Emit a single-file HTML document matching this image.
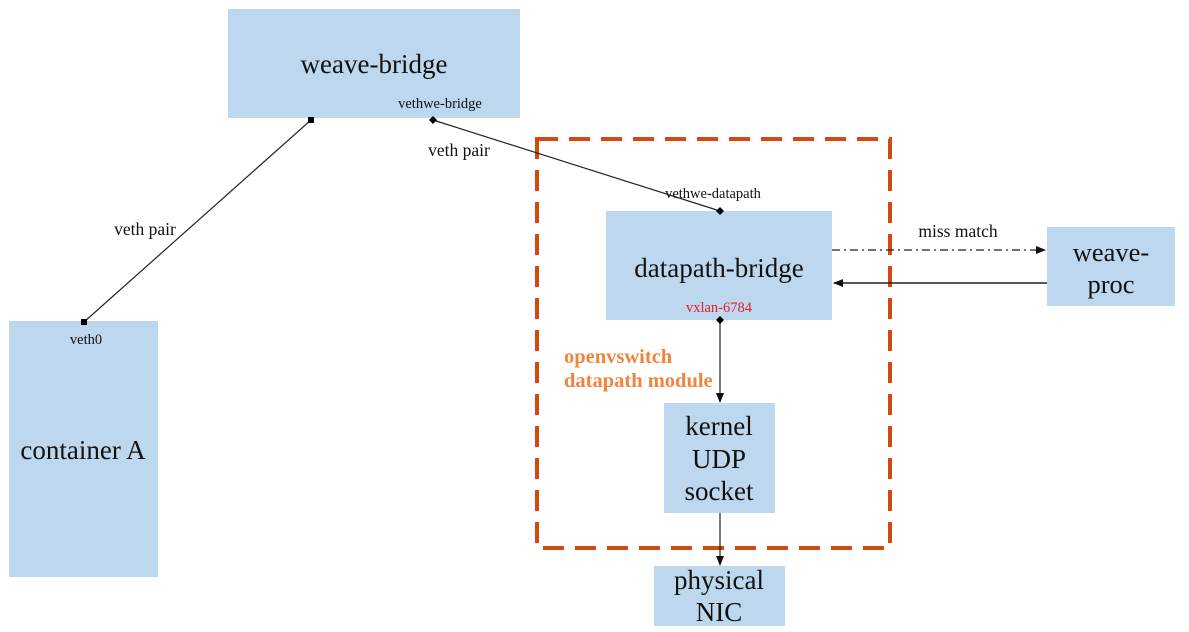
<!DOCTYPE html>
<html><head><meta charset="utf-8"><style>
html,body{margin:0;padding:0;background:#fff;width:1189px;height:632px;overflow:hidden}
text{font-family:"Liberation Serif",serif;fill:#111}
</style></head><body>
<svg width="1189" height="632" viewBox="0 0 1189 632" xmlns="http://www.w3.org/2000/svg">
<defs>
<marker id="ah" markerWidth="10" markerHeight="8" refX="9" refY="4" orient="auto" markerUnits="userSpaceOnUse">
<path d="M0,0 L10,4 L0,8 z" fill="#111"/></marker>
</defs>
<g fill="#bdd7ee">
<rect x="228" y="9" width="292" height="109"/>
<rect x="9" y="321" width="149" height="256"/>
<rect x="606" y="211" width="226" height="109"/>
<rect x="1047" y="227" width="128" height="79"/>
<rect x="664" y="403" width="111" height="110"/>
<rect x="654" y="566" width="131" height="60"/>
</g>
<rect x="537" y="139" width="353" height="409" fill="none" stroke="#d24a0f" stroke-width="4" stroke-dasharray="21,11"/>
<line x1="311" y1="120" x2="84" y2="322" stroke="#222" stroke-width="1.2"/>
<rect x="308" y="117" width="6" height="6" fill="#000"/>
<rect x="81" y="319" width="6" height="6" fill="#000"/>
<line x1="433" y1="120" x2="720" y2="211" stroke="#222" stroke-width="1.2"/>
<path d="M433,116 l4,4 l-4,4 l-4,-4z" fill="#000"/>
<path d="M720,207 l4,4 l-4,4 l-4,-4z" fill="#000"/>
<line x1="832" y1="250" x2="1045" y2="250" stroke="#222" stroke-width="1.2" stroke-dasharray="8,4,2,4" marker-end="url(#ah)"/>
<line x1="1047" y1="283" x2="834" y2="283" stroke="#222" stroke-width="1.5" marker-end="url(#ah)"/>
<line x1="720" y1="320" x2="720" y2="402" stroke="#222" stroke-width="1.2" marker-end="url(#ah)"/>
<path d="M720,316 l4,4 l-4,4 l-4,-4z" fill="#000"/>
<line x1="720" y1="513" x2="720" y2="565" stroke="#222" stroke-width="1.2" marker-end="url(#ah)"/>
<text x="374" y="73" font-size="27" text-anchor="middle">weave-bridge</text>
<text x="440" y="108" font-size="14.5" text-anchor="middle">vethwe-bridge</text>
<text x="145" y="235" font-size="17.5" text-anchor="middle">veth pair</text>
<text x="459" y="156" font-size="17.5" text-anchor="middle">veth pair</text>
<text x="86" y="344" font-size="14.5" text-anchor="middle">veth0</text>
<text x="83" y="459" font-size="27" text-anchor="middle">container A</text>
<text x="713" y="198" font-size="14.5" text-anchor="middle">vethwe-datapath</text>
<text x="719" y="277" font-size="27" text-anchor="middle">datapath-bridge</text>
<text x="719" y="312" font-size="14.5" text-anchor="middle" style="fill:#e8202a">vxlan-6784</text>
<text x="958" y="237" font-size="17.5" text-anchor="middle">miss match</text>
<text x="1111" y="261" font-size="26.5" text-anchor="middle">weave-</text>
<text x="1111" y="293" font-size="26.5" text-anchor="middle">proc</text>
<text x="564" y="363" font-size="20.5" font-weight="bold" style="fill:#f0843c">openvswitch</text>
<text x="564" y="387" font-size="20.5" font-weight="bold" style="fill:#f0843c">datapath module</text>
<text x="719" y="435" font-size="27" text-anchor="middle">kernel</text>
<text x="719" y="468" font-size="27" text-anchor="middle">UDP</text>
<text x="719" y="500" font-size="27" text-anchor="middle">socket</text>
<text x="719" y="589" font-size="27" text-anchor="middle">physical</text>
<text x="719" y="621" font-size="27" text-anchor="middle">NIC</text>
</svg>
</body></html>
